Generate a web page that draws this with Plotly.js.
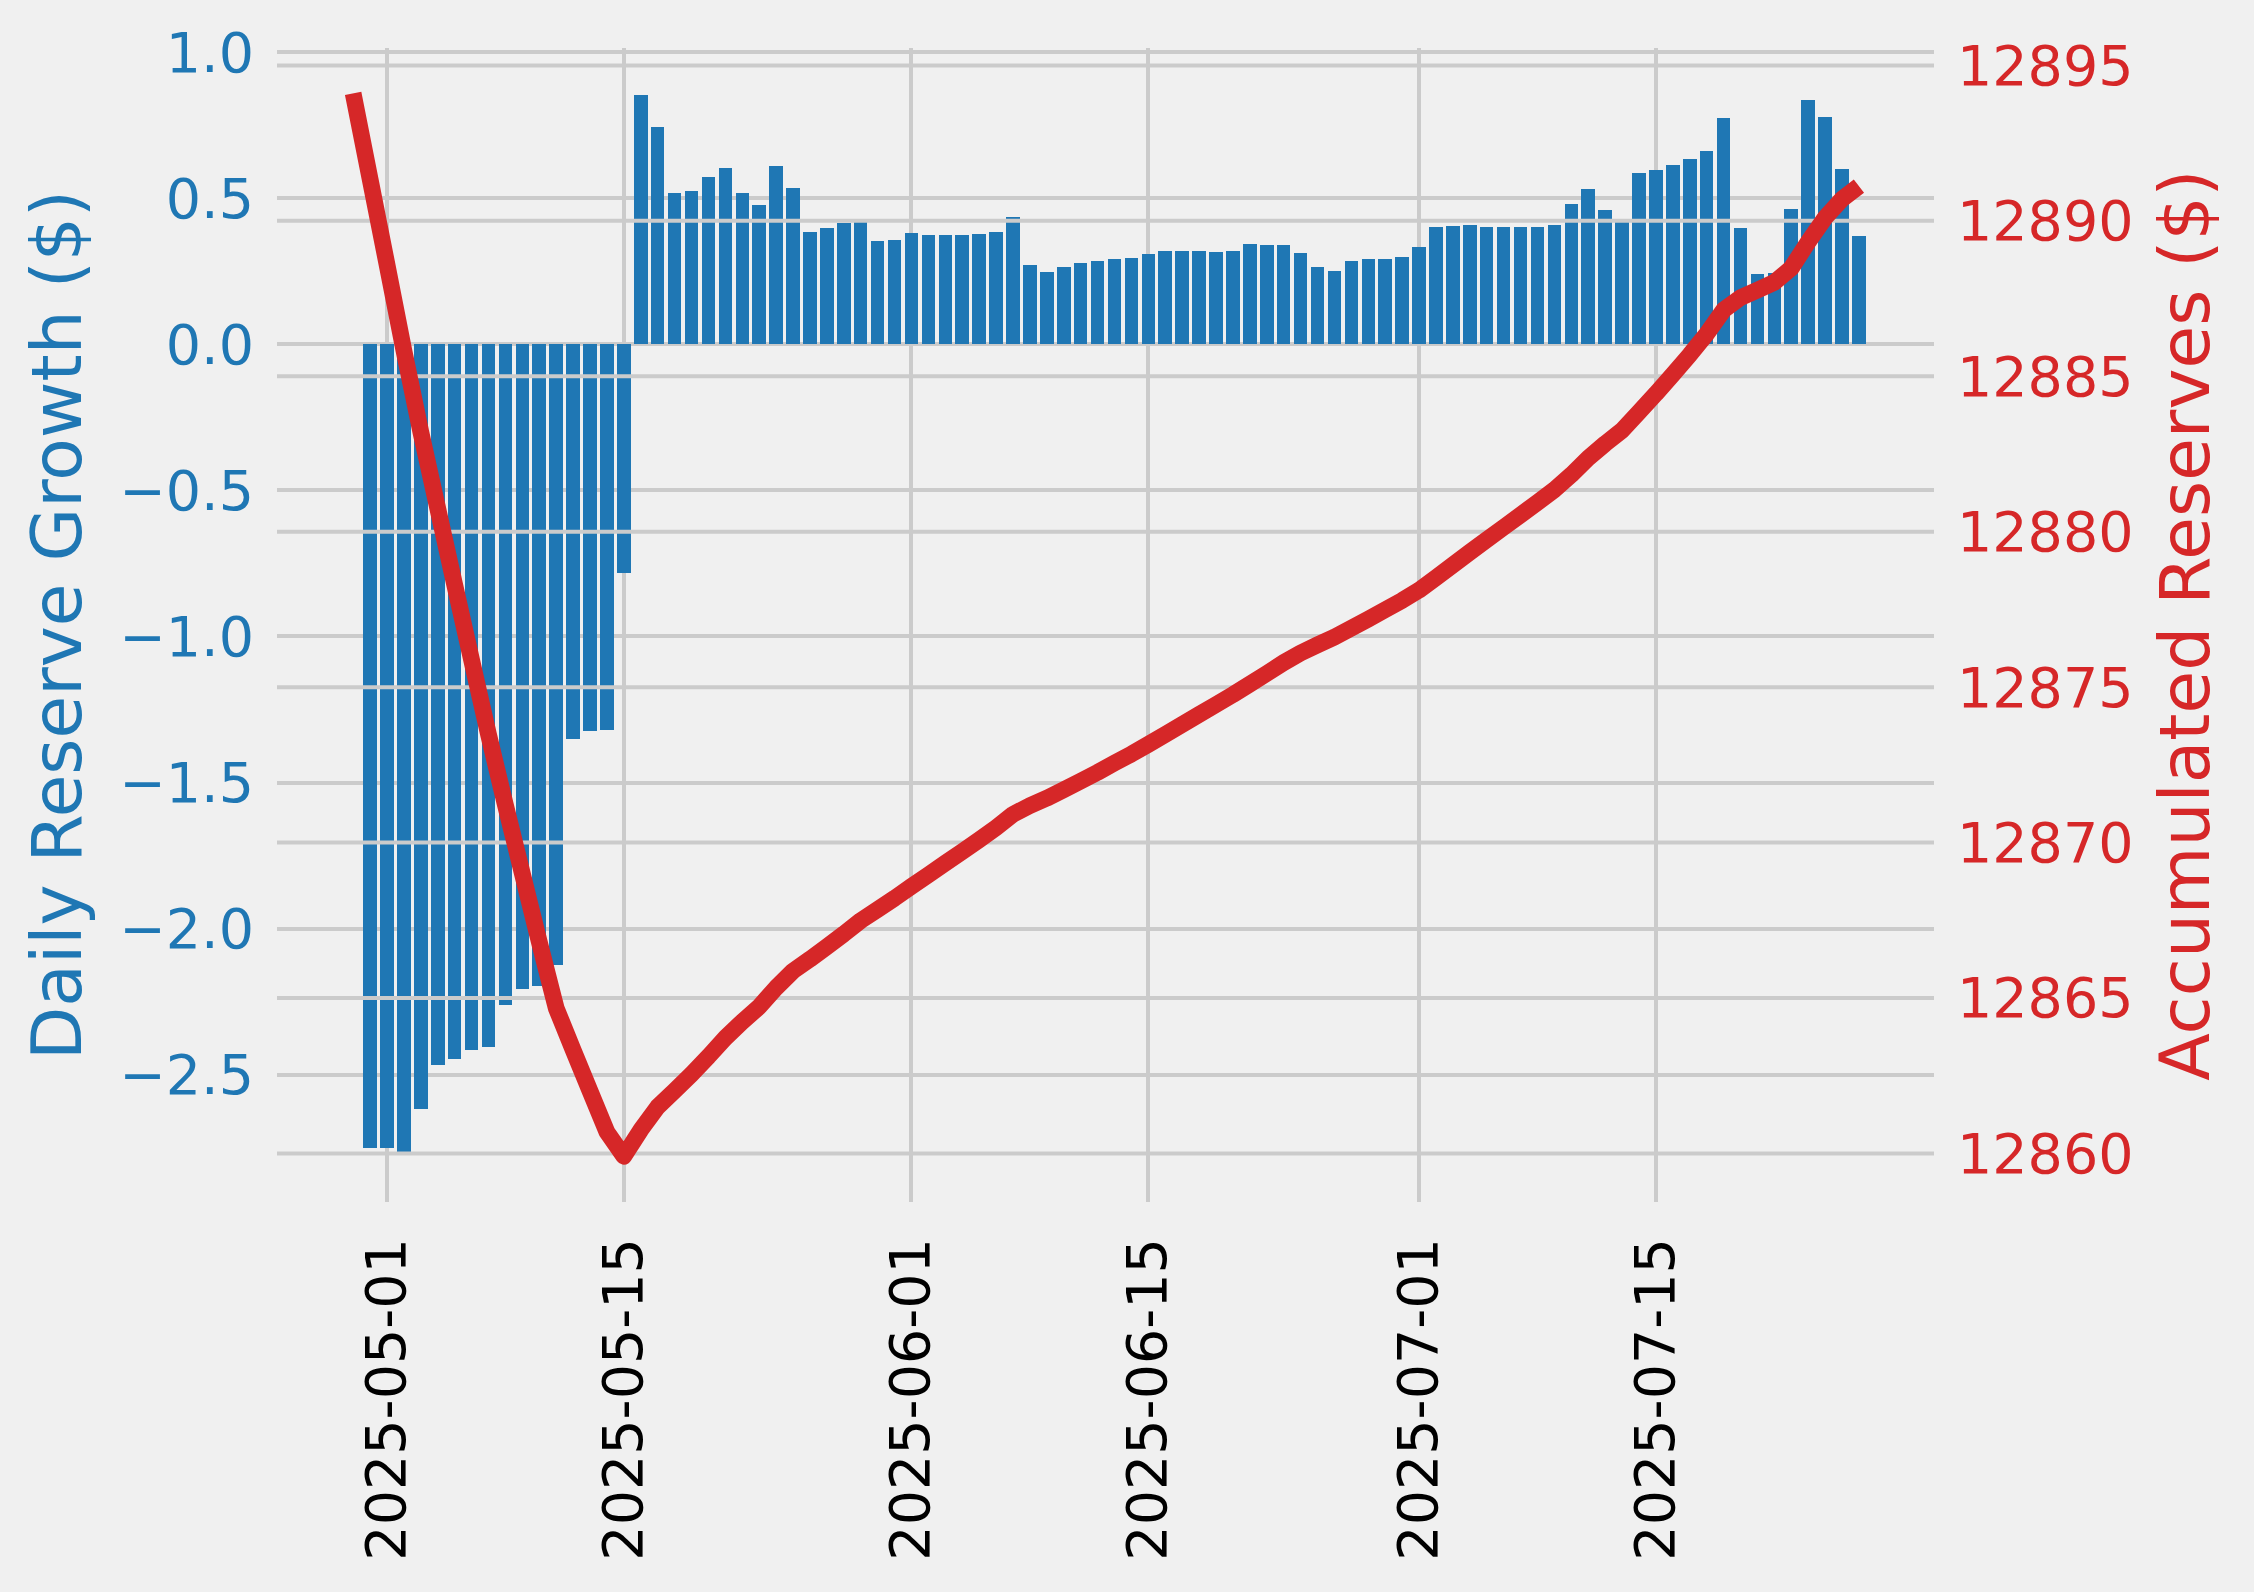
<!DOCTYPE html>
<html>
<head>
<meta charset="utf-8">
<script src="https://cdn.plot.ly/plotly-3.0.1.min.js"></script>
<style>
html,body{margin:0;padding:0;background:#f0f0f0;}
#chart{width:2254px;height:1592px;}
#chart .scatterlayer path.js-line{stroke-linejoin:round;}
</style>
</head>
<body>
<div id="chart"></div>
<script>
// ---- Data ----
const lineDates = [
  "2025-04-29","2025-04-30",
  "2025-05-01","2025-05-02","2025-05-03","2025-05-04","2025-05-05","2025-05-06","2025-05-07","2025-05-08","2025-05-09","2025-05-10",
  "2025-05-11","2025-05-12","2025-05-13","2025-05-14","2025-05-15","2025-05-16","2025-05-17","2025-05-18","2025-05-19","2025-05-20",
  "2025-05-21","2025-05-22","2025-05-23","2025-05-24","2025-05-25","2025-05-26","2025-05-27","2025-05-28","2025-05-29","2025-05-30","2025-05-31",
  "2025-06-01","2025-06-02","2025-06-03","2025-06-04","2025-06-05","2025-06-06","2025-06-07","2025-06-08","2025-06-09","2025-06-10",
  "2025-06-11","2025-06-12","2025-06-13","2025-06-14","2025-06-15","2025-06-16","2025-06-17","2025-06-18","2025-06-19","2025-06-20",
  "2025-06-21","2025-06-22","2025-06-23","2025-06-24","2025-06-25","2025-06-26","2025-06-27","2025-06-28","2025-06-29","2025-06-30",
  "2025-07-01","2025-07-02","2025-07-03","2025-07-04","2025-07-05","2025-07-06","2025-07-07","2025-07-08","2025-07-09","2025-07-10",
  "2025-07-11","2025-07-12","2025-07-13","2025-07-14","2025-07-15","2025-07-16","2025-07-17","2025-07-18","2025-07-19","2025-07-20",
  "2025-07-21","2025-07-22","2025-07-23","2025-07-24","2025-07-25","2025-07-26","2025-07-27"
];
const barDates = lineDates.slice(1);

const dailyGrowth = [
  -2.750,-2.750,-2.771,-2.616,-2.466,-2.446,-2.417,-2.407,-2.263,-2.206,-2.198,-2.126,-1.352,-1.324,-1.321,-0.782,
  0.854,0.743,0.519,0.524,0.573,0.604,0.519,0.478,0.611,0.536,0.385,0.399,0.414,0.430,0.354,0.358,
  0.382,0.375,0.375,0.375,0.378,0.385,0.437,0.272,0.248,0.265,0.279,0.286,0.293,0.296,0.310,
  0.320,0.320,0.320,0.317,0.320,0.344,0.341,0.341,0.313,0.265,0.251,0.286,0.293,0.293,0.299,
  0.334,0.402,0.406,0.409,0.402,0.402,0.402,0.402,0.409,0.481,0.533,0.461,0.430,0.587,0.598,
  0.615,0.635,0.663,0.776,0.399,0.241,0.245,0.464,0.838,0.779,0.601,0.371
];

const accumulated = [
  12894.10,12891.35,
  12888.60,12885.83,12883.21,12880.75,12878.30,12875.88,12873.48,12871.21,12869.01,12866.81,
  12864.68,12863.33,12862.01,12860.69,12859.91,12860.76,12861.50,12862.02,12862.55,12863.12,
  12863.72,12864.24,12864.72,12865.33,12865.87,12866.25,12866.65,12867.06,12867.49,12867.85,12868.21,
  12868.59,12868.96,12869.34,12869.71,12870.09,12870.48,12870.91,12871.19,12871.43,12871.70,
  12871.98,12872.26,12872.56,12872.85,12873.16,12873.48,12873.80,12874.12,12874.44,12874.76,
  12875.10,12875.44,12875.79,12876.10,12876.36,12876.61,12876.90,12877.19,12877.49,12877.79,
  12878.12,12878.52,12878.93,12879.34,12879.74,12880.14,12880.54,12880.94,12881.35,12881.83,
  12882.37,12882.83,12883.26,12883.85,12884.44,12885.06,12885.69,12886.36,12887.13,12887.53,
  12887.77,12888.02,12888.48,12889.32,12890.10,12890.70,12891.12
];

const leftTickVals = [-2.5,-2.0,-1.5,-1.0,-0.5,0.0,0.5,1.0];
const leftTickText = ["\u22122.5","\u22122.0","\u22121.5","\u22121.0","\u22120.5","0.0","0.5","1.0"];
const rightTickVals = [12860,12865,12870,12875,12880,12885,12890,12895];
const rightTickText = ["12860","12865","12870","12875","12880","12885","12890","12895"];
const xTickVals = ["2025-05-01","2025-05-15","2025-06-01","2025-06-15","2025-07-01","2025-07-15"];
const xTickText = ["2025-05-01","2025-05-15","2025-06-01","2025-06-15","2025-07-01","2025-07-15"];

const xRange = ["2025-04-24 12:00","2025-07-31 10:30"];
const leftRange = [-2.936, 1.0144];
const rightRange = [12858.44, 12895.56];

// ---- Style ----
const BLUE = "#1f77b4", RED = "#d62728", GRID = "#cbcbcb", BG = "#f0f0f0";
const FONT = "DejaVu Sans";
const TICK_SIZE = 55.5, TITLE_SIZE = 69.4;

// Right-axis grid lines: drawn above bars (twin axis) but below the red line
const gridX = [], gridY = [];
rightTickVals.forEach(function (t) {
  gridX.push(xRange[0], xRange[1], null);
  gridY.push(t, t, null);
});

const traces = [
  {
    type: "bar", x: barDates, y: dailyGrowth,
    marker: { color: BLUE, line: { width: 0 } },
    width: 0.8 * 86400000,
    xaxis: "x", yaxis: "y", hoverinfo: "skip", name: "Daily Reserve Growth"
  },
  {
    type: "scatter", mode: "lines", x: gridX, y: gridY,
    xaxis: "x", yaxis: "y2", connectgaps: false,
    line: { color: GRID, width: 4 }, hoverinfo: "skip", name: "grid"
  },
  {
    type: "scatter", mode: "lines", x: lineDates, y: accumulated,
    xaxis: "x", yaxis: "y2",
    line: { color: RED, width: 16.7, simplify: false }, name: "Accumulated Reserves"
  }
];

const layout = {
  width: 2254, height: 1592,
  paper_bgcolor: BG, plot_bgcolor: BG,
  showlegend: false,
  font: { family: FONT, color: "#000" },
  margin: { l: 277, r: 320, t: 48, b: 390, pad: 0 },
  bargap: 0,
  xaxis: {
    type: "date", range: xRange, autorange: false,
    tickmode: "array", tickvals: xTickVals, ticktext: xTickText,
    tickangle: -90, tickfont: { family: FONT, size: TICK_SIZE, color: "#000" },
    ticks: "", ticklabelstandoff: 24,
    showgrid: true, gridcolor: GRID, gridwidth: 4,
    zeroline: false, showline: false
  },
  yaxis: {
    range: leftRange, autorange: false,
    tickmode: "array", tickvals: leftTickVals, ticktext: leftTickText,
    tickfont: { family: FONT, size: TICK_SIZE, color: BLUE },
    ticks: "", ticklabelstandoff: 22,
    showgrid: true, gridcolor: GRID, gridwidth: 4,
    zeroline: false, showline: false,
    title: { text: "Daily Reserve Growth ($)", font: { family: FONT, size: TITLE_SIZE, color: BLUE }, standoff: 14 }
  },
  yaxis2: {
    overlaying: "y", side: "right",
    range: rightRange, autorange: false,
    tickmode: "array", tickvals: rightTickVals, ticktext: rightTickText,
    tickfont: { family: FONT, size: TICK_SIZE, color: RED },
    ticks: "", ticklabelstandoff: 22,
    showgrid: false, zeroline: false, showline: false,
    title: { text: "Accumulated Reserves ($)", font: { family: FONT, size: TITLE_SIZE, color: RED }, standoff: 27 }
  }
};

Plotly.newPlot("chart", traces, layout, { staticPlot: true, displayModeBar: false });
</script>
</body>
</html>
